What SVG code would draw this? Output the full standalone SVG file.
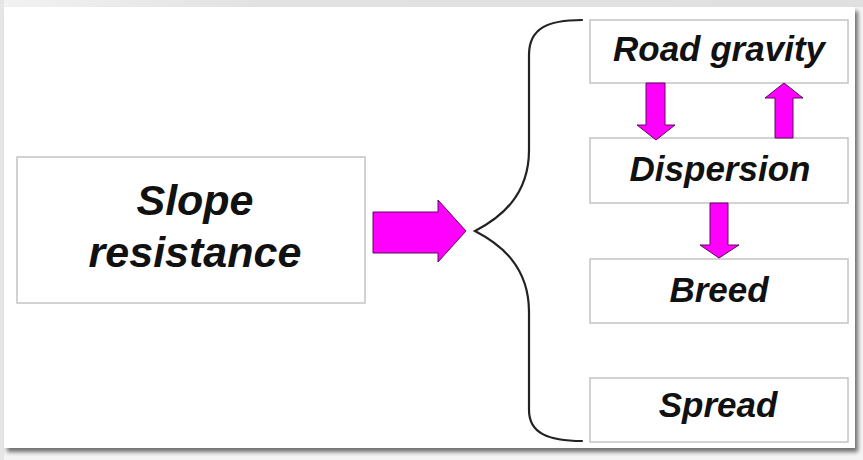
<svg xmlns="http://www.w3.org/2000/svg" width="863" height="460" viewBox="0 0 863 460">
  <defs>
    <linearGradient id="topBand" x1="0" y1="0" x2="1" y2="0">
      <stop offset="0" stop-color="#f2f2f2"/>
      <stop offset="0.3" stop-color="#e2e2e2"/>
      <stop offset="1" stop-color="#e0e0e0"/>
    </linearGradient>
    <filter id="cardShadow" x="-5%" y="-5%" width="110%" height="115%">
      <feGaussianBlur in="SourceAlpha" stdDeviation="2"/>
      <feOffset dx="3" dy="4"/>
      <feComponentTransfer><feFuncA type="linear" slope="0.55"/></feComponentTransfer>
      <feMerge><feMergeNode/><feMergeNode in="SourceGraphic"/></feMerge>
    </filter>
    <style>
      .box { fill: #ffffff; stroke: #c4c4c4; stroke-width: 1.5; }
      .label { font-family: "Liberation Sans", Arial, sans-serif; font-weight: bold; font-style: italic; fill: #111111; text-anchor: middle; }
      .arrow { fill: #ff00ff; stroke: #5a0a5a; stroke-width: 1; stroke-linejoin: miter; }
      .brace { fill: none; stroke: #222222; stroke-width: 2.2; stroke-linecap: round; }
    </style>
  </defs>

  <!-- page backdrop -->
  <rect x="0" y="0" width="863" height="460" fill="#f4f4f4"/>
  <rect x="0" y="0" width="863" height="7" fill="url(#topBand)"/>
  <rect x="0" y="0" width="4" height="460" fill="#e6e6e6"/>

  <!-- white card -->
  <rect x="4" y="7" width="851" height="441" fill="#ffffff" filter="url(#cardShadow)"/>

  <g id="slope-resistance">
    <rect class="box" x="17" y="157" width="348" height="146"/>
    <text class="label" x="195" y="215" font-size="43">Slope</text>
    <text class="label" x="195" y="267" font-size="43">resistance</text>
  </g>

  <g id="road-gravity">
    <rect class="box" x="590" y="20" width="258" height="63"/>
    <text class="label" x="719" y="61" font-size="35">Road gravity</text>
  </g>

  <g id="dispersion">
    <rect class="box" x="590" y="138" width="258" height="65"/>
    <text class="label" x="720" y="181" font-size="35">Dispersion</text>
  </g>

  <g id="breed">
    <rect class="box" x="590" y="259" width="258" height="64"/>
    <text class="label" x="719" y="302" font-size="35">Breed</text>
  </g>

  <g id="spread">
    <rect class="box" x="590" y="378" width="258" height="64"/>
    <text class="label" x="718" y="417" font-size="35">Spread</text>
  </g>

  <g id="connectors">
    <!-- block arrow into the brace -->
    <polygon class="arrow" points="373,212 438,212 438,200 466,231 438,262 438,253 373,253"/>
    <!-- curly brace grouping the four steps -->
    <path class="brace" d="M582,20 C548,20 529,28 529,55 L529,150 C529,196 500,218 475,231 C500,244 529,266 529,312 L529,410 C529,433 548,441 582,441"/>
    <!-- Road gravity to Dispersion -->
    <polygon class="arrow" points="646,83 665,83 665,125 675,125 656,140 637,125 646,125"/>
    <!-- Dispersion back to Road gravity -->
    <polygon class="arrow" points="775,138 793,138 793,98 803,98 784,83 765,98 775,98"/>
    <!-- Dispersion to Breed -->
    <polygon class="arrow" points="710,203 728,203 728,245 739,245 719,258 700,245 710,245"/>
  </g>
</svg>
